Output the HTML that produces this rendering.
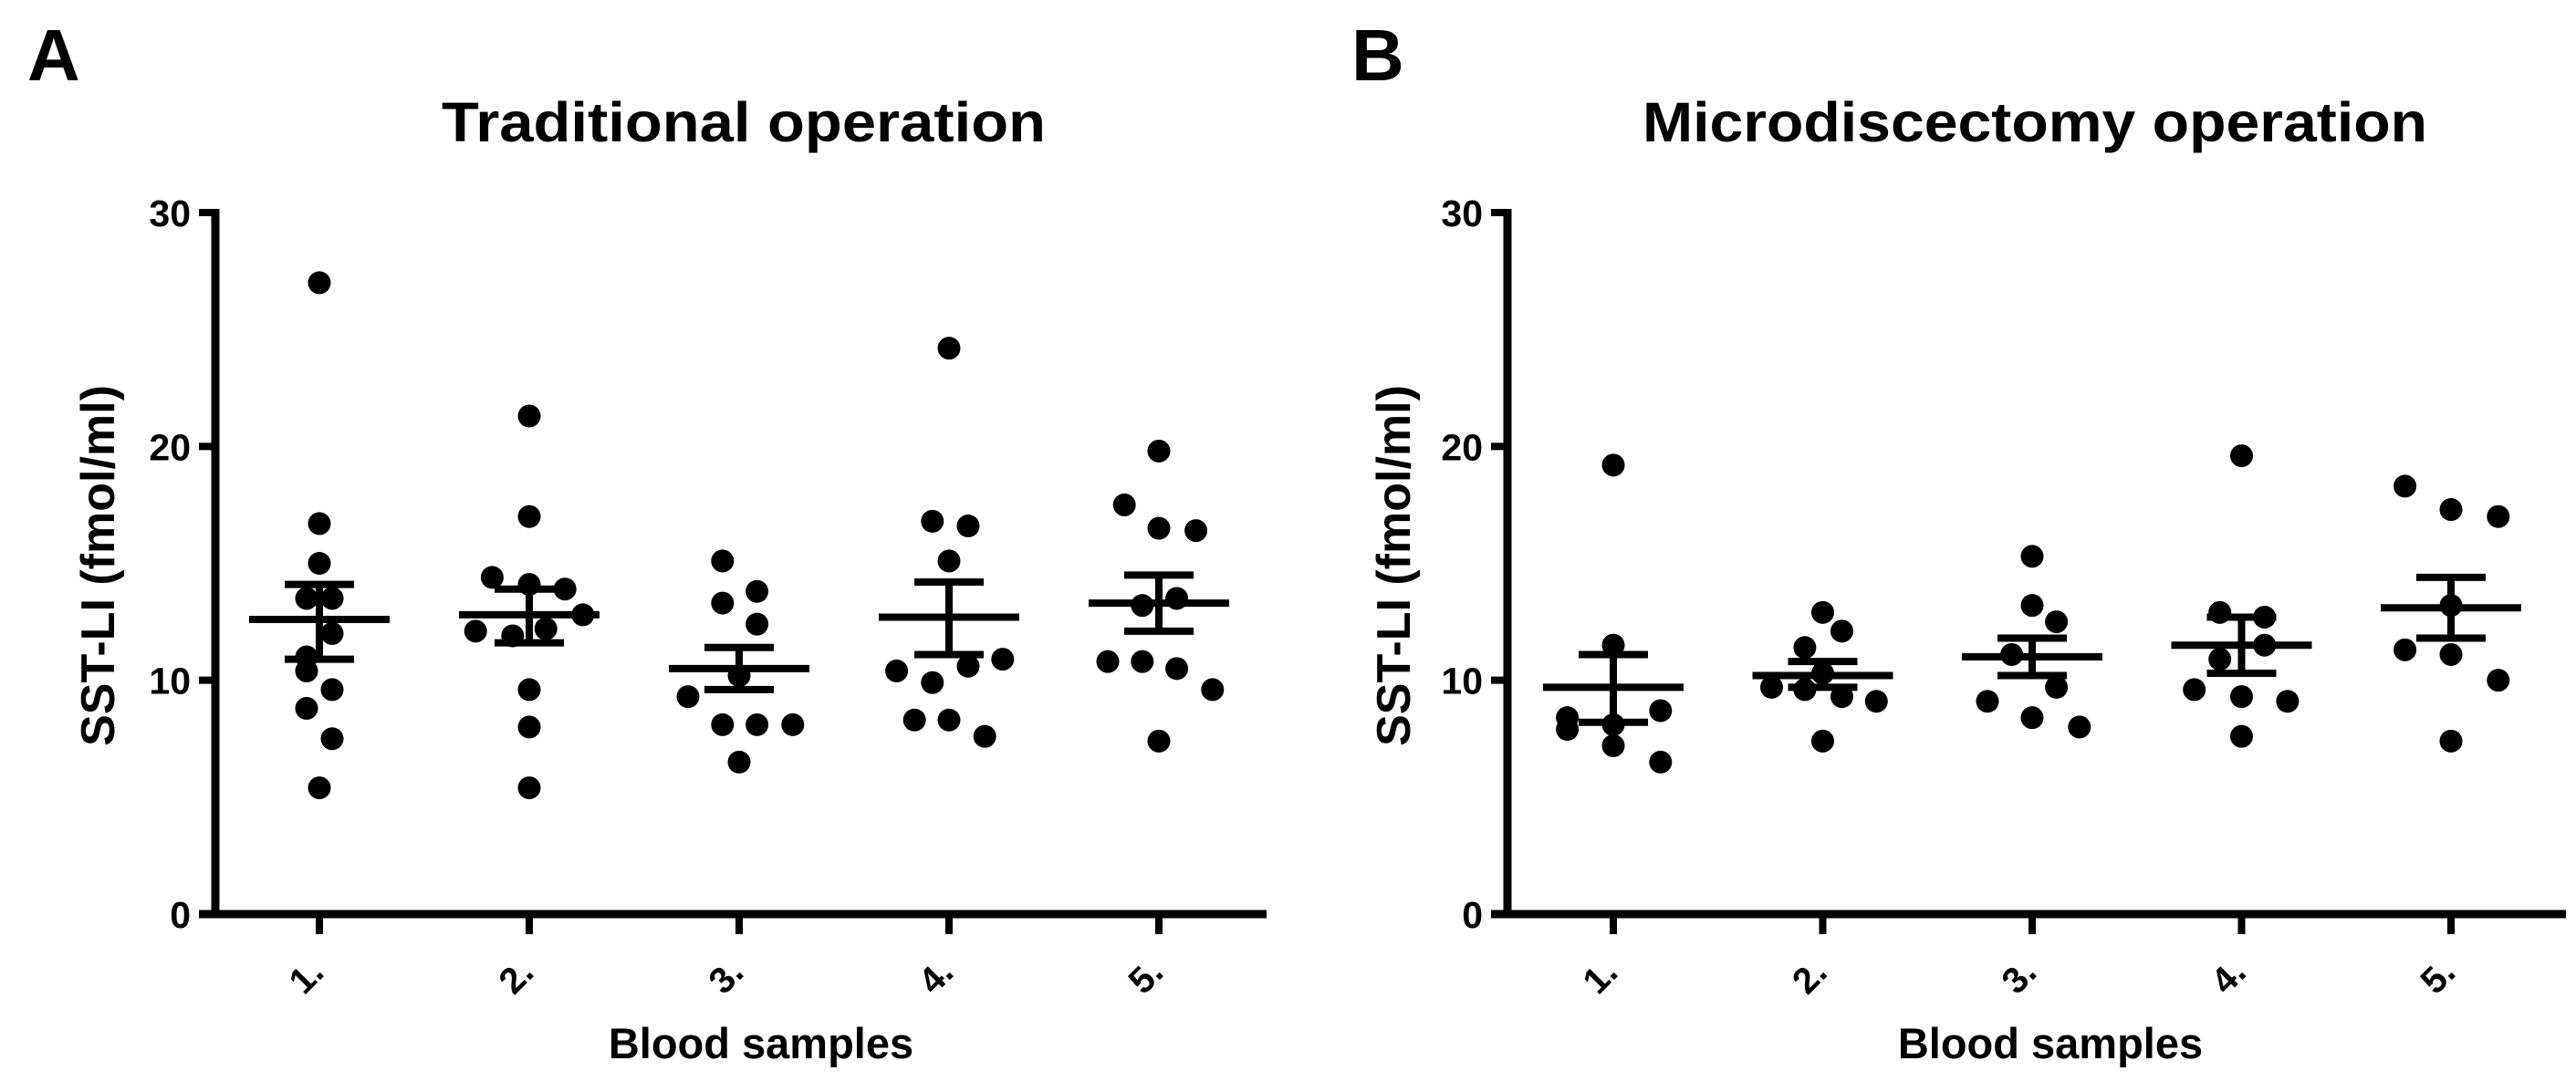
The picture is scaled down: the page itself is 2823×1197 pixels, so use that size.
<!DOCTYPE html>
<html><head><meta charset="utf-8"><style>
html,body{margin:0;padding:0;background:#fff;}
svg{display:block;font-family:"Liberation Sans",Arial,sans-serif;font-weight:bold;}
</style></head><body>
<svg id="fig" width="2823" height="1197" viewBox="0 0 2823 1197" xmlns="http://www.w3.org/2000/svg">
<rect width="2823" height="1197" fill="#fff"/>
</svg>
<script>
// ---- data ----
const categories = ["1.", "2.", "3.", "4.", "5."];
const yTicks = [0, 10, 20, 30];
// Panel A: traditional operation  [value, jitter(slot)]
const tradC1 = [[27.0,0],[16.7,0],[15.0,0],[13.5,-1],[13.5,1],[12.0,1],[11.0,-1],[10.4,-1],[9.6,1],[8.8,-1],[7.5,1],[5.4,0]];
const tradC2 = [[21.3,0],[17.0,0],[14.4,-2.9],[14.1,0],[13.9,2.8],[12.8,4.2],[12.1,-4.2],[11.9,-1.3],[12.2,1.3],[9.6,0],[8.0,0],[5.4,0]];
const tradC3 = [[15.1,-1.3],[13.3,-1.3],[13.8,1.4],[12.4,1.4],[10.2,0],[9.3,-4],[8.1,-1.3],[8.1,1.4],[8.1,4.2],[6.5,0]];
const tradC4 = [[24.2,0],[16.8,-1.3],[16.6,1.5],[15.1,0],[10.4,-4.1],[9.9,-1.3],[10.6,1.5],[10.9,4.2],[8.3,-2.7],[8.3,0],[7.6,2.8]];
const tradC5 = [[19.8,0],[17.5,-2.7],[16.5,0],[16.4,2.9],[13.2,-1.3],[13.5,1.4],[10.8,-4],[10.8,-1.3],[10.5,1.4],[9.6,4.2],[7.4,0]];
const tradMean = [12.6, 12.8, 10.5, 12.7, 13.3];
const tradSemHi = [14.1, 13.9, 11.4, 14.2, 14.5];
const tradSemLo = [10.9, 11.6, 9.6, 11.1, 12.1];
// Panel B: microdiscectomy operation
const microC1 = [[19.2,0],[11.5,0],[8.4,-3.6],[7.9,-3.6],[8.1,0],[8.7,3.7],[7.2,0],[6.5,3.7]];
const microC2 = [[12.9,0],[12.1,1.5],[11.4,-1.4],[10.3,0],[9.7,-4],[9.6,-1.4],[9.3,1.5],[9.1,4.2],[7.4,0]];
const microC3 = [[15.3,0],[13.2,0],[12.5,1.9],[11.1,-1.6],[9.7,1.9],[9.1,-3.5],[8.4,0],[8.0,3.7]];
const microC4 = [[19.6,0],[12.9,-1.7],[12.7,1.8],[10.9,-1.7],[11.5,1.8],[9.6,-3.7],[9.3,0],[9.1,3.6],[7.6,0]];
const microC5 = [[18.3,-3.6],[17.3,0],[17.0,3.7],[13.2,0],[11.3,-3.6],[11.1,0],[10.0,3.7],[7.4,0]];
const microMean = [9.7, 10.2, 11.0, 11.5, 13.1];
const microSemHi = [11.1, 10.8, 11.8, 12.7, 14.4];
const microSemLo = [8.2, 9.7, 10.2, 10.3, 11.8];

const NS = "http://www.w3.org/2000/svg";
const svg = document.getElementById('fig');
function mk(tag, attrs, parent){
  const e = document.createElementNS(NS, tag);
  for (const k in attrs) e.setAttribute(k, attrs[k]);
  (parent||svg).appendChild(e);
  return e;
}
function panel(cfg){
  const g = mk('g', {});
  
  
  const y = v => cfg.y0 - (v/30)*(cfg.y0 - cfg.y30);
  const x = i => cfg.cat0 + i*cfg.step;
  const L = mk('text', {x:cfg.letterX, y:88, 'font-size':80}, g);
  L.textContent = cfg.letter;
  
  
  const T = mk('text', {x:cfg.titleX, y:155, 'font-size':61, textLength:cfg.titleW, lengthAdjust:'spacingAndGlyphs'}, g);
  T.textContent = cfg.title;
  
  
  const ya = mk('line', {x1:cfg.ax, y1:cfg.y30-4, x2:cfg.ax, y2:cfg.y0+4, stroke:'#000','stroke-width':9}, g);
  
  
  const xa = mk('line', {x1:cfg.ax-18, y1:cfg.y0, x2:cfg.axEnd, y2:cfg.y0, stroke:'#000','stroke-width':9}, g);
  
  
  yTicks.forEach(t => {
    const tk = mk('line', {x1:cfg.ax-18, y1:y(t), x2:cfg.ax, y2:y(t), stroke:'#000','stroke-width':8}, g);
    
    
    const lb = mk('text', {x:cfg.ax-27, y:y(t)+15, 'font-size':41, 'text-anchor':'end'}, g);
    lb.textContent = t;
    
    
  });
  categories.forEach((c, i) => {
    const tk = mk('line', {x1:x(i), y1:cfg.y0, x2:x(i), y2:cfg.y0+22, stroke:'#000','stroke-width':8}, g);
    
    
    const lb = mk('text', {x:0, y:0, 'font-size':40, 'text-anchor':'middle', transform:`translate(${x(i)-5},${cfg.y0+78}) rotate(-45)`}, g);
    lb.textContent = c;
    
    
  });
  const yt = mk('text', {x:0, y:0, 'font-size':52, 'text-anchor':'middle', transform:`translate(${cfg.yTitleX},620) rotate(-90)`}, g);
  yt.textContent = 'SST-LI (fmol/ml)';
  
  
  const xt = mk('text', {x:cfg.xTitleX, y:1160, 'font-size':47, 'text-anchor':'middle'}, g);
  xt.textContent = 'Blood samples';
  
  
  cfg.series.forEach((pts, i) => {
    pts.forEach(p => {
      const d = mk('circle', {cx:x(i)+p[1]*14, cy:y(p[0]), r:12.5, fill:'#000'}, g);
      
      
    });
    const m = mk('line', {x1:x(i)-77, x2:x(i)+77, y1:y(cfg.mean[i]), y2:y(cfg.mean[i]), stroke:'#000','stroke-width':8}, g);
    
    
    const v = mk('line', {x1:x(i), x2:x(i), y1:y(cfg.hi[i]), y2:y(cfg.lo[i]), stroke:'#000','stroke-width':8}, g);
    
    
    [cfg.hi[i], cfg.lo[i]].forEach(val => {
      const c = mk('line', {x1:x(i)-38, x2:x(i)+38, y1:y(val), y2:y(val), stroke:'#000','stroke-width':8}, g);
      
      
    });
  });
}
panel({name:'panel-a-traditional', letter:'A', letterX:30, title:'Traditional operation', titleX:484, titleW:662,
  ax:236, axEnd:1388, cat0:350, step:230, y0:1002, y30:233, yTitleX:125, xTitleX:834,
  series:[tradC1,tradC2,tradC3,tradC4,tradC5], mean:tradMean, hi:tradSemHi, lo:tradSemLo});
panel({name:'panel-b-microdiscectomy', letter:'B', letterX:1481, title:'Microdiscectomy operation', titleX:1800, titleW:860,
  ax:1652, axEnd:2812, cat0:1768, step:229.5, y0:1002, y30:233, yTitleX:1545, xTitleX:2247,
  series:[microC1,microC2,microC3,microC4,microC5], mean:microMean, hi:microSemHi, lo:microSemLo});
</script>
</body></html>
